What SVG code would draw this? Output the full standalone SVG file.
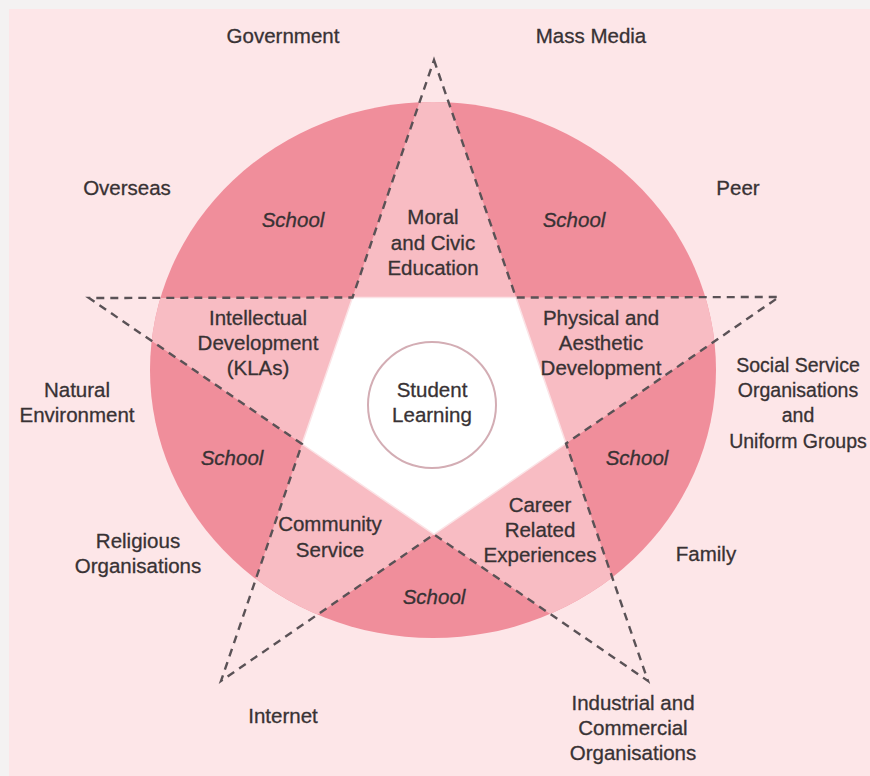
<svg xmlns="http://www.w3.org/2000/svg" width="870" height="776" viewBox="0 0 870 776">
<style>
.t{font-family:"Liberation Sans","DejaVu Sans",sans-serif;font-size:20.5px;fill:#383234;stroke:#383234;stroke-width:0.3;text-anchor:middle}
.s{font-style:italic}
.n{font-size:19.5px}
.dash{fill:none;stroke:#5a5256;stroke-width:2.4;stroke-dasharray:8 6;stroke-linejoin:miter}
</style>
<defs>
<clipPath id="circ"><ellipse cx="433" cy="370" rx="283" ry="268"/></clipPath>
</defs>
<rect x="0" y="0" width="870" height="776" fill="#f4f2f2"/>
<rect x="9" y="9" width="861" height="767" fill="#fde6e8"/>
<g id="shapes">
<ellipse cx="433" cy="370" rx="283" ry="268" fill="#f08e9b"/>
<polygon clip-path="url(#circ)" fill="#f8bcc3" points="434,60 516,297.5 779,297 566,443.5 648,681 434,534.4 221,681 302,444 89,298 352.5,297.5"/>
<polygon fill="#ffffff" stroke="#fbe3e6" stroke-width="1.5" points="352.5,297.5 516,297.5 566,443.5 434,534.4 302,444"/>
</g>
<g id="connectors">
<polygon class="dash" points="434,60 516,297.5 779,297 566,443.5 648,681 434,534.4 221,681 302,444 89,298 352.5,297.5"/>
</g>
<g id="student-learning">
<ellipse cx="432" cy="405" rx="64" ry="63" fill="#ffffff" stroke="#d3adb4" stroke-width="2"/>
<text class="t" x="432" y="397">Student</text>
<text class="t" x="432" y="422">Learning</text>
</g>
<g id="moral-civic">
<text class="t" x="433" y="224">Moral</text>
<text class="t" x="433" y="250">and Civic</text>
<text class="t" x="433" y="275">Education</text>
</g>
<g id="intellectual">
<text class="t" x="258" y="325">Intellectual</text>
<text class="t" x="258" y="350">Development</text>
<text class="t" x="258" y="375">(KLAs)</text>
</g>
<g id="physical-aesthetic">
<text class="t" x="601" y="325">Physical and</text>
<text class="t" x="601" y="350">Aesthetic</text>
<text class="t" x="601" y="375">Development</text>
</g>
<g id="community-service">
<text class="t" x="330" y="531">Community</text>
<text class="t" x="330" y="557">Service</text>
</g>
<g id="career">
<text class="t" x="540" y="512">Career</text>
<text class="t" x="540" y="537">Related</text>
<text class="t" x="540" y="562">Experiences</text>
</g>
<g id="school-labels">
<text class="t s" x="293" y="227">School</text>
<text class="t s" x="574" y="227">School</text>
<text class="t s" x="232" y="465">School</text>
<text class="t s" x="637" y="465">School</text>
<text class="t s" x="434" y="604">School</text>
</g>
<g id="government"><text class="t" x="283" y="43">Government</text></g>
<g id="mass-media"><text class="t" x="591" y="43">Mass Media</text></g>
<g id="overseas"><text class="t" x="127" y="195">Overseas</text></g>
<g id="peer"><text class="t" x="738" y="195">Peer</text></g>
<g id="natural-environment">
<text class="t" x="77" y="397">Natural</text>
<text class="t" x="77" y="422">Environment</text>
</g>
<g id="social-service">
<text class="t n" x="798" y="372">Social Service</text>
<text class="t n" x="798" y="397">Organisations</text>
<text class="t n" x="798" y="422">and</text>
<text class="t n" x="798" y="448">Uniform Groups</text>
</g>
<g id="religious">
<text class="t" x="138" y="548">Religious</text>
<text class="t" x="138" y="573">Organisations</text>
</g>
<g id="family"><text class="t" x="706" y="561">Family</text></g>
<g id="internet"><text class="t" x="283" y="723">Internet</text></g>
<g id="industrial">
<text class="t" x="633" y="710">Industrial and</text>
<text class="t" x="633" y="735">Commercial</text>
<text class="t" x="633" y="760">Organisations</text>
</g>
</svg>
